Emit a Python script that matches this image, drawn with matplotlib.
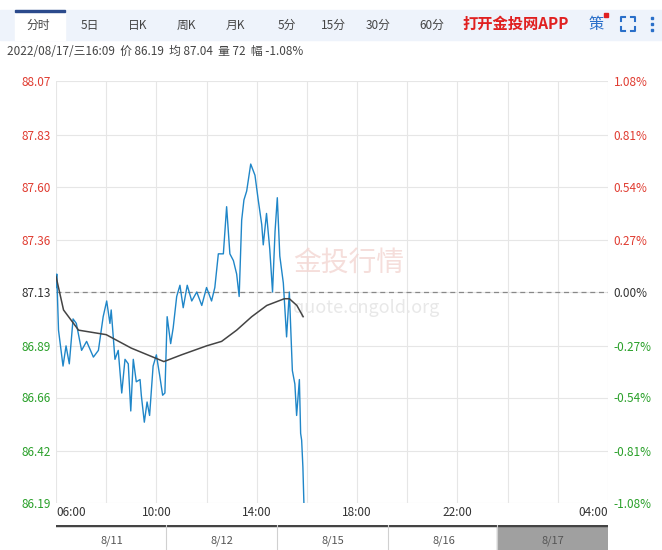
import matplotlib
matplotlib.use("Agg")
import matplotlib.pyplot as plt
from matplotlib.patches import Rectangle
from matplotlib.lines import Line2D

plt.rcParams['font.family'] = ['Noto Sans CJK SC', 'DejaVu Sans']

t = [0.0,0.03,0.1,0.28,0.4,0.53,0.68,0.81,1.02,1.22,1.49,1.69,1.88,2.02,2.15,2.2,2.35,2.48,2.62,2.75,2.88,2.98,
     3.08,3.2,3.35,3.4,3.52,3.63,3.73,3.87,4.0,4.13,4.25,4.34,4.43,4.57,4.67,4.81,4.94,5.07,5.23,5.41,5.61,5.81,
     6.0,6.2,6.33,6.47,6.67,6.8,6.93,7.07,7.2,7.3,7.4,7.49,7.6,7.76,7.93,8.06,8.2,8.26,8.39,8.52,8.63,8.73,8.82,
     8.92,9.06,9.19,9.3,9.42,9.52,9.59,9.7,9.75,9.79,9.84,9.88]
price = [87.15,87.21,86.96,86.80,86.89,86.81,87.01,86.99,86.87,86.91,86.84,86.87,87.02,87.09,86.99,87.05,86.83,
         86.87,86.68,86.83,86.81,86.60,86.83,86.73,86.74,86.67,86.55,86.64,86.58,86.80,86.85,86.76,86.67,86.68,
         87.02,86.90,86.97,87.11,87.16,87.06,87.16,87.09,87.13,87.07,87.15,87.09,87.15,87.30,87.30,87.51,87.30,
         87.27,87.21,87.11,87.45,87.54,87.58,87.70,87.65,87.54,87.43,87.34,87.48,87.32,87.13,87.40,87.55,87.29,
         87.17,86.93,87.13,86.78,86.72,86.58,86.74,86.50,86.47,86.35,86.19]
avg_t = [0.0,0.3,0.9,2.0,3.0,4.3,5.0,6.0,6.6,7.2,7.8,8.4,9.1,9.3,9.6,9.85]
avg = [87.20,87.05,86.96,86.94,86.88,86.82,86.85,86.89,86.91,86.96,87.02,87.07,87.10,87.10,87.07,87.02]

base = 87.13
yticks = [86.19,86.42,86.66,86.89,87.13,87.36,87.60,87.83,88.07]
pct = ['-1.08%','-0.81%','-0.54%','-0.27%','0.00%','0.27%','0.54%','0.81%','1.08%']
xt = [0,4,8,12,16,22]
xl = ['06:00','10:00','14:00','18:00','22:00','04:00']
tabs = ['分时','5日','日K','周K','月K','5分','15分','30分','60分']
tab_x = [38,90,138,186,235,287,333,378,432]
nav_labels = ['8/11','8/12','8/15','8/16','8/17']
nav_x = [112,222,333,444,553]

W, H = 662, 550
fig = plt.figure(figsize=(6.62, 5.5), dpi=100)
fx = lambda x: x / W
fy = lambda y: 1 - y / H

fig.patches.append(Rectangle((fx(0), fy(40)), 1, 30 / H, transform=fig.transFigure, color='#eef3fb', zorder=0))
fig.patches.append(Rectangle((fx(15), fy(40)), 50 / W, 30 / H, transform=fig.transFigure, color='white', zorder=1))
fig.patches.append(Rectangle((fx(15), fy(12)), 50 / W, 2 / H, transform=fig.transFigure, color='#2b4a8c', zorder=2))
for s, x in zip(tabs, tab_x):
    fig.text(fx(x), fy(25), s, ha='center', va='center', fontsize=8.5, color='#444')
fig.text(fx(462), fy(24), '打开金投网APP', ha='left', va='center', fontsize=11, color='#e02020', fontweight='bold')
fig.text(fx(596), fy(24), '策', ha='center', va='center', fontsize=11, color='#2a6fc9')
fig.patches.append(Rectangle((fx(604), fy(17)), 4 / W, 4 / H, transform=fig.transFigure, color='#e02020'))
# fullscreen icon: four corners
cx0, cx1, cy0, cy1, d = 621, 635, 17, 31, 4
for (x, y, sx, sy) in [(cx0, cy0, 1, 1), (cx1, cy0, -1, 1), (cx0, cy1, 1, -1), (cx1, cy1, -1, -1)]:
    fig.lines.append(Line2D([fx(x + sx * d), fx(x), fx(x)], [fy(y), fy(y), fy(y + sy * d)],
                            transform=fig.transFigure, color='#2a6fc9', lw=1.5))
for y in [18, 24, 30]:
    fig.patches.append(Rectangle((fx(651), fy(y + 1)), 2 / W, 2 / H, transform=fig.transFigure, color='#2a6fc9'))
fig.text(fx(7), fy(52), '2022/08/17/三16:09  价 86.19  均 87.04  量 72  幅 -1.08%', ha='left', va='center', fontsize=8.5, color='#444')

ax = fig.add_axes([fx(56), fy(503), (608 - 56) / W, (503 - 81) / H])
ax.set_xlim(0, 22)
ax.set_ylim(86.19, 88.07)
for x in range(0, 23, 2):
    ax.axvline(x, color='#e6e6e6', lw=0.8, zorder=0)
for y in yticks:
    ax.axhline(y, color='#e6e6e6', lw=0.8, zorder=0)
ax.axhline(base, color='#888', lw=0.9, ls=(0, (4, 3)), zorder=1)
ax.text(0.43, 0.55, '金投行情', transform=ax.transAxes, fontsize=20, color='#f3d6d2', alpha=0.8, zorder=0)
ax.text(0.43, 0.45, 'quote.cngold.org', transform=ax.transAxes, fontsize=13, color='#e8e8e8', zorder=0)
ax.plot(t, price, color='#1f86c8', lw=1.0, zorder=3)
ax.plot(avg_t, avg, color='#444', lw=1.1, zorder=4)
for s in ax.spines.values():
    s.set_visible(False)
ax.set_yticks(yticks)
ax.set_yticklabels([f'{v:.2f}' for v in yticks])
for lab, v in zip(ax.get_yticklabels(), yticks):
    lab.set_color('#e03c31' if v > base + 0.001 else ('#2aa02a' if v < base - 0.001 else '#333'))
ax.tick_params(axis='y', length=0, labelsize=8.5, pad=4)
ax2 = ax.twinx()
ax2.set_ylim(86.19, 88.07)
ax2.set_yticks(yticks)
ax2.set_yticklabels(pct)
for lab, v in zip(ax2.get_yticklabels(), yticks):
    lab.set_color('#e03c31' if v > base + 0.001 else ('#2aa02a' if v < base - 0.001 else '#333'))
ax2.tick_params(axis='y', length=0, labelsize=8.5, pad=4)
for s in ax2.spines.values():
    s.set_visible(False)
ax.set_xticks(xt)
ax.set_xticklabels(xl)
ax.tick_params(axis='x', length=0, labelsize=8.5, pad=2, colors='#333')
lbls = ax.get_xticklabels()
lbls[0].set_ha('left'); lbls[-1].set_ha('right')

nav = fig.add_axes([fx(56), 0, (608 - 56) / W, (550 - 525) / H])
nav.set_xlim(56, 608); nav.set_ylim(0, 1)
nav.axis('off')
nav.axhline(1, color='#444', lw=2.5)
nav.add_patch(Rectangle((497, 0), 110, 1, color='#a0a0a0'))
for x in [166, 277, 388, 497]:
    nav.axvline(x, color='#d0d0d0', lw=0.8)
for s, x in zip(nav_labels, nav_x):
    nav.text(x, 0.35, s, ha='center', va='center', fontsize=8, color='#555')

fig.savefig('out.png', dpi=100)
